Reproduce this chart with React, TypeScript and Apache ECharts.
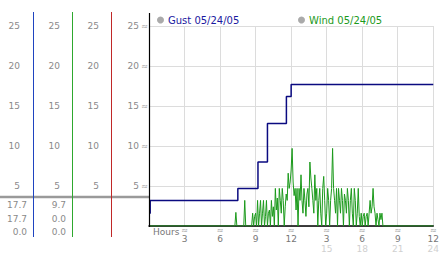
import React, { useEffect, useRef } from "react";
import * as echarts from "echarts";

// ---- data ----
const gustName = "Gust 05/24/05";
const windName = "Wind 05/24/05";
// gust: [hour, mph] change points (step line)
const gustPoints: [number, number][] = [
  [0, 1.6], [0.1, 3.2], [7.5, 4.7], [9.2, 8.0], [10.0, 12.8], [11.6, 16.2], [12.0, 17.7], [24, 17.7],
];
// wind: 5-minute samples starting at 07:00
const windStartHour = 7;
const windSamplesPerHour = 12;
const windValues: number[] = [
  0, 0, 0, 0, 1.7, 0, 0, 0, 0, 0, 0, 0,
  0, 3.2, 0, 0, 0, 0, 0, 0, 0, 1.6, 0, 1.2,
  1.6, 0, 3.2, 0, 1.6, 3.2, 0, 1.6, 3.2, 0, 1.2, 3.2,
  0, 1.6, 2.0, 0, 3.2, 1.2, 2.4, 0, 4.7, 2.0, 3.5, 0,
  4.7, 3.2, 1.6, 4.7, 3.2, 0, 2.4, 4.0, 3.2, 6.6, 4.7, 5.5,
  7.0, 9.7, 5.5, 3.8, 4.7, 2.0, 4.7, 0, 4.7, 3.2, 6.4, 3.2,
  1.6, 4.7, 3.2, 1.2, 4.0, 4.7, 2.4, 8.0, 6.0, 4.7, 3.2, 1.6,
  6.4, 3.2, 4.7, 0, 3.2, 4.7, 1.6, 0, 4.7, 6.2, 3.2, 0,
  1.6, 4.7, 3.2, 0, 3.2, 4.7, 9.7, 4.7, 3.2, 1.6, 4.7, 0,
  4.7, 3.2, 1.6, 4.7, 3.2, 0, 4.0, 3.2, 1.6, 4.7, 3.2, 0,
  3.2, 4.7, 1.6, 0, 4.7, 3.2, 0, 1.6, 4.7, 1.2, 0, 1.6,
  0, 1.2, 1.6, 0, 1.2, 1.6, 0, 1.6, 3.2, 1.6, 2.4, 4.7,
  2.4, 1.6, 0, 1.6, 0.8, 0, 1.6, 0.8, 1.6, 0, 0, 0,
];
const yMin = 0;
const yMax = 25;
const yInterval = 5;
const xMin = 0;
const xMax = 24;
const xInterval = 3;
const gustStats = ["17.7", "17.7", "0.0"];
const windStats = ["9.7", "0.0", "0.0"];

const FONT = "DejaVu Sans";
const GRAY = "#8a8a8a";
const MARK = "≈";

export default function App() {
  const ref = useRef<HTMLDivElement>(null);
  useEffect(() => {
    if (!ref.current) return;
    const chart = echarts.init(ref.current, undefined, { renderer: "svg" });

    const windData: [number, number][] = [[0, 0]];
    windValues.forEach((v, i) => windData.push([windStartHour + i / windSamplesPerHour, v]));
    windData.push([24, 0]);

    const labelAxis = (offset: number, margin: number, fmt: (v: number) => string, size: number, color: string) => ({
      type: "value",
      position: "left",
      offset,
      min: yMin,
      max: yMax,
      interval: yInterval,
      axisLine: { show: false },
      axisTick: { show: false },
      splitLine: { show: false },
      axisLabel: {
        showMinLabel: false,
        margin,
        fontFamily: FONT,
        fontSize: size,
        color,
        formatter: (v: number) => (v === 0 ? "" : fmt(v)),
      },
    });

    const hourAxis = (
      margin: number, fmt: (v: number) => string, size: number, lh: number, color: string, main: boolean
    ) => ({
      type: "value",
      position: "bottom",
      min: xMin,
      max: xMax,
      interval: xInterval,
      axisLine: { show: main, lineStyle: { color: "#000", width: 1.5 } },
      axisTick: { show: false },
      splitLine: { show: main, lineStyle: { color: "#dcdcdc", width: 1 } },
      axisLabel: {
        showMinLabel: false,
        margin,
        fontFamily: FONT,
        fontSize: size,
        lineHeight: lh,
        color,
        formatter: (v: number) => (v === 0 ? "" : fmt(v)),
      },
    });

    const statTexts: any[] = [];
    const rows = [205, 219, 232];
    gustStats.forEach((s, i) =>
      statTexts.push({
        type: "text", x: 27, y: rows[i],
        style: { text: s, fill: GRAY, font: `9px "${FONT}"`, textAlign: "right", textVerticalAlign: "middle" },
      })
    );
    windStats.forEach((s, i) =>
      statTexts.push({
        type: "text", x: 66, y: rows[i],
        style: { text: s, fill: GRAY, font: `9px "${FONT}"`, textAlign: "right", textVerticalAlign: "middle" },
      })
    );

    chart.setOption({
      animation: false,
      backgroundColor: "#fff",
      grid: { left: 149, right: 5, top: 26, bottom: 27, containLabel: false },
      legend: [
        {
          data: [{ name: gustName, itemStyle: { color: "#aaa" } }],
          left: 157, top: 15, padding: 0, icon: "circle", itemWidth: 7, itemHeight: 7, itemGap: 5,
          textStyle: { color: "#1a1aa0", fontFamily: FONT, fontSize: 10, padding: [0, 0, 0, -1] },
        },
        {
          data: [{ name: windName, itemStyle: { color: "#aaa" } }],
          left: 298, top: 15, padding: 0, icon: "circle", itemWidth: 7, itemHeight: 7, itemGap: 5,
          textStyle: { color: "#1c9a1c", fontFamily: FONT, fontSize: 10, padding: [0, 0, 0, -1] },
        },
      ],
      xAxis: [
        hourAxis(1, () => MARK, 8, 7, "#999", true),
        hourAxis(8, (v) => `${v > 12 ? v - 12 : v}`, 9, 9, "#777", false),
        hourAxis(18, (v) => (v > 12 ? `${v}` : ""), 9, 9, "#d0d0d0", false),
      ],
      yAxis: [
        {
          type: "value",
          min: yMin,
          max: yMax,
          interval: yInterval,
          axisLine: { show: false },
          axisTick: { show: false },
          splitLine: { show: true, lineStyle: { color: "#dcdcdc", width: 1 } },
          axisLabel: { show: false },
        },
        labelAxis(116, 13, (v) => `${v}`, 9, GRAY),
        labelAxis(77, 12, (v) => `${v}`, 9, GRAY),
        labelAxis(38, 12, (v) => `${v}`, 9, GRAY),
        labelAxis(0, 10, (v) => `${v}`, 9, GRAY),
        labelAxis(0, 1, () => MARK, 8, "#999"),
      ],
      series: [
        {
          name: windName,
          type: "line",
          data: windData,
          showSymbol: false,
          symbol: "none",
          lineStyle: { color: "#1c9a1c", width: 1 },
          itemStyle: { color: "#1c9a1c" },
          z: 3,
        },
        {
          name: gustName,
          type: "line",
          data: gustPoints,
          step: "end",
          showSymbol: false,
          symbol: "none",
          lineStyle: { color: "#0a0a80", width: 1.5 },
          itemStyle: { color: "#0a0a80" },
          z: 4,
        },
      ],
      graphic: [
        { type: "line", shape: { x1: 0, y1: 197, x2: 149, y2: 197 }, style: { stroke: "#9a9a9a", lineWidth: 2.5 }, z: 10 },
        { type: "line", shape: { x1: 33.5, y1: 12, x2: 33.5, y2: 237 }, style: { stroke: "#1f44c0", lineWidth: 1 }, z: 11 },
        { type: "line", shape: { x1: 72.5, y1: 12, x2: 72.5, y2: 237 }, style: { stroke: "#2ea82e", lineWidth: 1 }, z: 11 },
        { type: "line", shape: { x1: 111.5, y1: 12, x2: 111.5, y2: 237 }, style: { stroke: "#c02828", lineWidth: 1 }, z: 11 },
        { type: "line", shape: { x1: 149.5, y1: 13, x2: 149.5, y2: 227 }, style: { stroke: "#000", lineWidth: 1.2 }, z: 11 },
        {
          type: "text", x: 153, y: 232,
          style: { text: "Hours", fill: "#777", font: `9px "${FONT}"`, textVerticalAlign: "middle" },
          z: 11,
        },
        ...statTexts,
      ],
    });
    return () => chart.dispose();
  }, []);
  return (
    <div
      ref={ref}
      style={{ position: "fixed", left: 0, top: 0, width: 442, height: 253, background: "#fff" }}
    />
  );
}
